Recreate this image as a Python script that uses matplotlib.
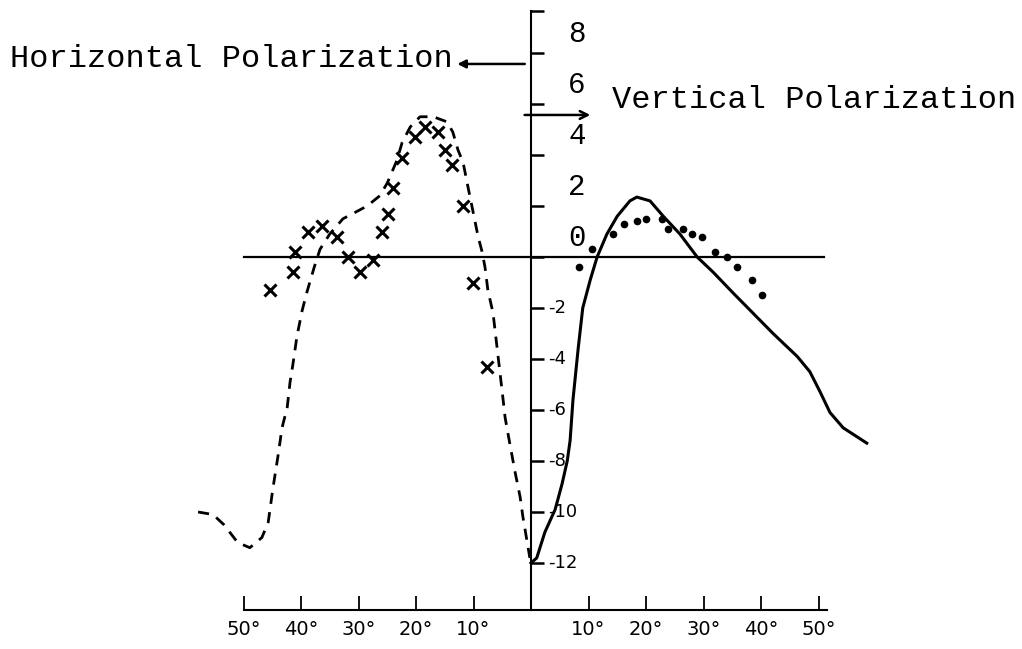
'''
polarization chart: horizontal (left half) and vertical (right half)
'''
import numpy as np
import matplotlib.pyplot as plt

# horizontal polarization, angles drawn to the left (negative)
h_theory_deg = [-57.9, -55.3, -53.4, -51.0, -48.9, -46.8, -45.7, -44.9, -44.0, -43.3,
                -42.4, -41.9, -41.4, -40.7, -39.8, -39.0, -37.7, -36.7, -35.0, -32.7,
                -31.0, -28.5, -26.3, -25.0, -23.3, -22.4, -21.0, -19.3, -17.0, -14.6,
                -13.6, -12.7, -11.8, -11.1, -10.1, -9.2, -8.5, -8.0, -7.5, -6.6,
                -5.0, -4.5, -3.7, -2.8, -1.9, -1.4, -0.2]
h_theory_val = [-10.0, -10.1, -10.5, -11.2, -11.4, -11.0, -10.4, -9.1, -7.8, -6.7,
                -5.9, -4.9, -4.2, -3.1, -2.1, -1.4, -0.4, 0.3, 0.9, 1.5,
                1.7, 2.0, 2.4, 2.9, 3.8, 4.5, 5.1, 5.5, 5.5, 5.3,
                4.9, 4.2, 3.7, 2.9, 1.8, 0.8, 0.2, -0.4, -1.3, -2.2,
                -5.3, -6.3, -7.3, -8.4, -9.4, -10.2, -11.8]
h_meas_deg = [-45.4, -41.4, -41.0, -38.8, -36.3, -33.7, -31.8, -29.7, -27.5, -25.9,
              -24.9, -24.0, -22.4, -20.2, -18.4, -16.2, -15.0, -13.7, -11.8, -10.1, -7.7]
h_meas_val = [-1.3, -0.6, 0.2, 1.0, 1.2, 0.8, 0.0, -0.6, -0.1, 1.0,
              1.7, 2.7, 3.9, 4.7, 5.1, 4.9, 4.2, 3.6, 2.0, -1.0, -4.3]

# vertical polarization, angles drawn to the right
v_theory_deg = [0.0, 1.0, 2.4, 4.2, 5.4, 6.3, 6.8, 7.3, 8.2, 9.0,
                10.3, 11.5, 13.2, 15.0, 17.2, 18.4, 20.7, 23.0, 25.9, 28.9,
                31.7, 35.1, 38.6, 42.1, 46.3, 48.5, 50.3, 52.0, 54.3, 58.4]
v_theory_val = [-12.0, -11.8, -10.8, -9.9, -8.9, -8.0, -7.2, -5.6, -3.6, -2.0,
                -0.9, 0.0, 0.9, 1.6, 2.2, 2.35, 2.2, 1.6, 0.9, 0.0,
                -0.6, -1.4, -2.2, -3.0, -3.9, -4.5, -5.3, -6.1, -6.7, -7.3]
v_meas_deg = [8.3, 10.6, 14.3, 16.2, 18.4, 20.0, 22.8, 23.8, 26.4, 28.0,
              29.7, 32.0, 34.1, 35.8, 38.4, 40.2]
v_meas_val = [-0.4, 0.3, 0.9, 1.3, 1.4, 1.5, 1.5, 1.1, 1.1, 0.9,
              0.8, 0.2, 0.0, -0.4, -0.9, -1.5]

x_ticks = [-50, -40, -30, -20, -10, 10, 20, 30, 40, 50]
y_ticks_pos = [2, 4, 6, 8]
y_ticks_neg = [-2, -4, -6, -8, -10, -12]

# page layout in data units (scan is 5.75 px per degree, 25.5 px per unit)
X0, DX = 531, 5.75
Y0, DY = 257, 25.5
W, H = 1022, 649
Y_TOP = 9.65
Y_BOT = -13.85

fig = plt.figure(figsize=(W / 100, H / 100), dpi=100)
ax = fig.add_axes([0, 0, 1, 1])
ax.set_xlim(-X0 / DX, (W - X0) / DX)
ax.set_ylim((Y0 - H) / DY, Y0 / DY)

for s in ['top', 'right']:
    ax.spines[s].set_visible(False)
ax.spines['left'].set_position(('data', 0))
ax.spines['left'].set_bounds(Y_BOT, Y_TOP)
ax.spines['bottom'].set_position(('data', Y_BOT))
ax.spines['bottom'].set_bounds(-50, 51.5)
for s in ['left', 'bottom']:
    ax.spines[s].set_linewidth(1.5)

ax.set_yticks(y_ticks_neg + [0] + y_ticks_pos + [Y_TOP])
ax.set_yticklabels([])
ax.tick_params(axis='y', direction='in', length=9, width=1.8)
ax.set_xticks(x_ticks)
ax.set_xticklabels([f'{abs(d)}°' for d in x_ticks], fontsize=14)
ax.tick_params(axis='x', direction='in', length=10, width=1.3, pad=7)

# zero line
ax.plot([-50, 51], [0, 0], color='black', lw=1.6)

# y labels: typed for positive, hand-written for negative
mono = 'Liberation Mono'
for v in [0] + y_ticks_pos:
    ax.text(8, v + 0.75, str(v), fontsize=21, family=mono, ha='center', va='center')
for v in y_ticks_neg:
    ax.text(3, v, str(v), fontsize=13, ha='left', va='center')

# curves
ax.plot(h_theory_deg, h_theory_val, color='black', lw=2, dashes=(4, 3))
ax.plot(h_meas_deg, h_meas_val, 'x', color='black', ms=9, mew=2.2)
ax.plot(v_theory_deg, v_theory_val, color='black', lw=2.2)
ax.plot(v_meas_deg, v_meas_val, 'o', color='black', ms=4.5)

# titles with arrows
ax.text(-13.6, 7.75, 'Horizontal Polarization', fontsize=23, family=mono,
        ha='right', va='center')
ax.annotate('', xy=(-13.3, 7.57), xytext=(-0.6, 7.57),
            arrowprops=dict(arrowstyle='-|>', color='black', lw=1.8, mutation_scale=12))
ax.text(14.1, 6.16, 'Vertical Polarization', fontsize=23, family=mono,
        ha='left', va='center')
ax.annotate('', xy=(10.8, 5.57), xytext=(-1.6, 5.57),
            arrowprops=dict(arrowstyle='->', color='black', lw=1.8, mutation_scale=14))

plt.savefig('out.png')
